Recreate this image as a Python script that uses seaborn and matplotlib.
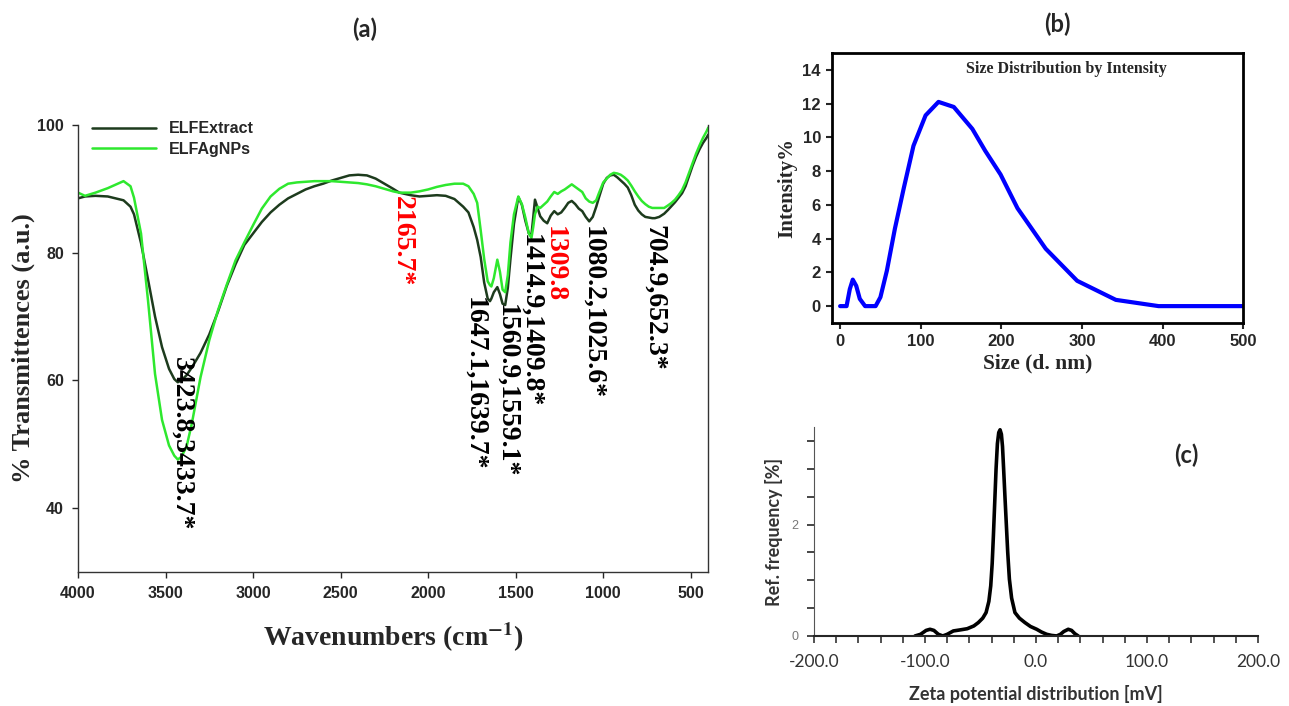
import numpy as np
import pandas as pd
import seaborn as sns
import matplotlib.pyplot as plt
from matplotlib.ticker import FixedLocator, MultipleLocator, FuncFormatter

# ---- (a) FTIR data ----
wavenumber = [4000, 3960, 3900, 3830, 3740, 3700, 3680, 3640, 3600, 3560, 3520, 3480, 3450, 3430,
              3410, 3380, 3350, 3300, 3250, 3200, 3150, 3100, 3050, 3000, 2950, 2900, 2850, 2800,
              2750, 2700, 2650, 2600, 2550, 2500, 2450, 2400, 2350, 2300, 2250, 2200, 2165, 2100,
              2050, 2000, 1950, 1900, 1850, 1800, 1770, 1740, 1720, 1700, 1680, 1660, 1647, 1639,
              1625, 1605, 1590, 1575, 1560, 1545, 1530, 1510, 1485, 1465, 1445, 1425, 1410, 1400,
              1390, 1375, 1360, 1340, 1320, 1300, 1280, 1260, 1240, 1220, 1200, 1180, 1160, 1140,
              1120, 1100, 1080, 1060, 1040, 1025, 1000, 980, 960, 940, 920, 900, 880, 860, 840,
              820, 800, 780, 760, 740, 720, 705, 680, 652, 630, 610, 590, 570, 550, 530, 510, 490,
              470, 450, 430, 410, 400]
extract_T = [88.5, 88.8, 88.9, 88.8, 88.2, 87.2, 86.0, 81.5, 75.8, 70.0, 65.2, 61.8, 60.2, 59.7,
             60.0, 60.8, 62.0, 64.3, 67.2, 70.8, 74.8, 78.2, 81.2, 83.0, 84.8, 86.3, 87.5, 88.5,
             89.2, 89.9, 90.4, 90.8, 91.3, 91.7, 92.1, 92.2, 92.1, 91.6, 90.8, 90.0, 89.4, 89.0,
             88.8, 88.9, 89.0, 88.9, 88.4, 87.2, 86.3, 84.0, 82.0, 79.3, 75.3, 72.8, 72.4, 72.8,
             73.8, 74.6, 73.5, 72.0, 71.8, 74.5, 79.0, 84.5, 88.7, 87.5, 85.0, 83.0, 82.8, 85.5,
             88.3, 87.0, 85.7, 85.0, 84.6, 85.8, 86.5, 86.0, 86.3, 87.0, 87.8, 88.1, 87.6, 86.9,
             86.5, 85.6, 84.9, 85.6, 87.2, 88.6, 90.8, 91.7, 92.1, 92.2, 91.8, 91.3, 90.8, 90.2, 89.0,
             87.5, 86.6, 86.0, 85.6, 85.5, 85.4, 85.4, 85.6, 86.1, 86.7, 87.3, 87.9, 88.6, 89.3, 90.4,
             92.0, 93.6, 95.0, 96.2, 97.2, 98.0, 98.5]
agnps_T = [89.4, 88.9, 89.4, 90.1, 91.2, 90.4, 88.6, 83.0, 72.5, 61.0, 53.8, 49.8, 48.2, 47.6,
           48.0, 49.6, 53.2, 60.5, 66.3, 71.0, 75.0, 78.8, 81.6, 84.3, 86.9, 88.8, 90.0, 90.8,
           91.0, 91.1, 91.2, 91.2, 91.2, 91.1, 91.0, 90.9, 90.7, 90.4, 90.0, 89.6, 89.4, 89.4,
           89.6, 89.9, 90.3, 90.6, 90.8, 90.8, 90.4, 89.2, 87.8, 83.5, 79.0, 75.5, 74.9, 74.7,
           76.0, 78.9, 77.0, 74.2, 73.8, 76.5, 81.6, 86.0, 88.8, 87.6, 85.5, 83.0, 82.3, 84.0,
           86.0, 87.2, 87.0, 87.5, 88.0, 88.8, 89.5, 89.2, 89.6, 89.9, 90.3, 90.7, 90.3, 89.9,
           89.5, 88.5, 88.0, 87.8, 88.2, 89.3, 91.0, 91.6, 92.2, 92.5, 92.4, 92.2, 91.8, 91.3, 90.5,
           89.6, 88.8, 88.1, 87.6, 87.2, 87.0, 87.0, 87.0, 87.0, 87.4, 87.8, 88.3, 89.0, 89.8, 91.0,
           92.5, 94.0, 95.5, 96.8, 98.0, 99.0, 99.6]
peak_labels = ["3423.8,3433.7*", "2165.7*", "1647.1,1639.7*", "1560.9,1559.1*",
               "1414.9,1409.8*", "1309.8", "1080.2,1025.6*", "704.9,652.3*"]
peak_colors = ["black", "red", "black", "black", "black", "red", "black", "black"]
peak_x = [3410, 2150, 1735, 1553, 1416, 1281, 1063, 710]
peak_y = [63.6, 88.8, 73.1, 72.0, 82.9, 84.2, 84.2, 84.4]

# ---- (b) DLS size distribution ----
size_nm = [0, 8, 12, 15.7, 20, 24.4, 31, 44, 50, 58, 68, 79, 91, 106, 122, 141, 164, 180,
           199, 220, 255, 294, 342, 395, 500]
intensity = [0, 0, 1.0, 1.57, 1.2, 0.43, 0, 0, 0.53, 2.1, 4.6, 7.0, 9.5, 11.3, 12.1, 11.8,
             10.5, 9.2, 7.8, 5.8, 3.4, 1.5, 0.37, 0, 0]

# ---- (c) zeta potential ----
zeta_mv = [-109, -104, -99, -95.5, -92, -88, -84, -80, -74.5, -68, -62, -56, -52, -48, -45,
           -42.5, -40.8, -39.5, -38.4, -37.2, -36, -34.8, -33.6, -32.4, -31.2, -30.2, -29.2,
           -28, -27, -25.5, -24, -22, -19, -15, -10, -5, 0.6, 5, 9.6, 14, 18.6, 22, 25, 29,
           32, 35, 38]
zeta_freq = [0, 0.03, 0.1, 0.12, 0.1, 0.03, 0, 0.03, 0.09, 0.11, 0.13, 0.18, 0.24, 0.32, 0.42,
             0.62, 0.9, 1.3, 1.8, 2.4, 3.0, 3.45, 3.65, 3.7, 3.62, 3.4, 3.0,
             2.5, 2.1, 1.5, 1.02, 0.68, 0.42, 0.32, 0.24, 0.17, 0.12, 0.07, 0.03, 0.01, 0, 0.03,
             0.08, 0.12, 0.1, 0.04, 0]

sns.set_style("ticks")
plt.rcParams['font.family'] = ['Liberation Sans', 'DejaVu Sans']
plt.rcParams['mathtext.fontset'] = 'stix'
serif = ['Liberation Serif', 'DejaVu Serif']
calib = ['Lato', 'DejaVu Sans']

fig = plt.figure(figsize=(12.89, 7.06), dpi=100)

# ---------------- panel (a) ----------------
ax1 = fig.add_axes([0.0605, 0.19, 0.489, 0.633])
ftir = pd.DataFrame({"wn": wavenumber, "ELFExtract": extract_T, "ELFAgNPs": agnps_T})
ftir_long = ftir.melt(id_vars="wn", var_name="sample", value_name="T")
sns.lineplot(data=ftir_long, x="wn", y="T", hue="sample", ax=ax1,
             palette={"ELFExtract": "#1d3b1d", "ELFAgNPs": "#2ee82e"}, linewidth=1.8)
ax1.set_xlim(4000, 400)
ax1.set_ylim(30, 100)
ax1.set_xticks([4000, 3500, 3000, 2500, 2000, 1500, 1000, 500])
ax1.set_yticks([40, 60, 80, 100])
ax1.tick_params(direction='out', length=4, width=1, labelsize=11.5, pad=6)
for lab in ax1.get_xticklabels() + ax1.get_yticklabels():
    lab.set_fontweight('bold')
ax1.spines['top'].set_visible(False)
for s in ['left', 'bottom', 'right']:
    ax1.spines[s].set_linewidth(1)
    ax1.spines[s].set_color('#333333')
ax1.set_xlabel("Wavenumbers (cm$\\mathbf{^{-1}}$)", family=serif, fontsize=20,
               fontweight='bold', labelpad=14)
ax1.set_ylabel("% Transmittences (a.u.)", family=serif, fontsize=19,
               fontweight='bold', labelpad=2)
leg = ax1.legend(loc='upper left', bbox_to_anchor=(0.0, 1.04), frameon=False,
                 handlelength=4.0, fontsize=11.5, labelspacing=0.35)
for t in leg.get_texts():
    t.set_fontweight('bold')
for lab, c, x, y in zip(peak_labels, peak_colors, peak_x, peak_y):
    ax1.text(x, y, lab, rotation=270, ha='center', va='top', color=c,
             family=serif, fontsize=20, fontweight='bold')

# ---------------- panel (b) ----------------
ax2 = fig.add_axes([0.6455, 0.5425, 0.319, 0.3825])
sns.lineplot(x=size_nm, y=intensity, ax=ax2, color='#0000ff', linewidth=3)
ax2.set_xlim(-10, 500)
ax2.set_ylim(-1, 15)
ax2.set_xticks([0, 100, 200, 300, 400, 500])
ax2.set_yticks([0, 2, 4, 6, 8, 10, 12, 14])
ax2.tick_params(direction='out', length=4, width=1.5, labelsize=12, pad=4)
for lab in ax2.get_xticklabels() + ax2.get_yticklabels():
    lab.set_fontweight('bold')
for s in ax2.spines.values():
    s.set_linewidth(2)
    s.set_color('black')
ax2.set_xlabel("Size (d. nm)", family=serif, fontsize=15.5, fontweight='bold', labelpad=3)
ax2.set_ylabel("Intensity%", family=serif, fontsize=15, fontweight='bold', labelpad=4)
ax2.text(0.57, 0.94, "Size Distribution by Intensity", transform=ax2.transAxes,
         ha='center', va='center', family=serif, fontsize=11.5, fontweight='bold')

# ---------------- panel (c) ----------------
ax3 = fig.add_axes([0.6315, 0.0992, 0.3445, 0.296])
sns.lineplot(x=zeta_mv, y=zeta_freq, ax=ax3, color='black', linewidth=2.6)
ax3.set_xlim(-200, 200)
ax3.set_ylim(0, 3.75)
ax3.xaxis.set_major_locator(MultipleLocator(100))
ax3.xaxis.set_minor_locator(MultipleLocator(20))
ax3.xaxis.set_major_formatter(FuncFormatter(lambda v, p: f"{v:.1f}"))
ax3.yaxis.set_major_locator(FixedLocator([0, 0.5, 1, 1.5, 2, 2.5, 3, 3.5]))
ax3.yaxis.set_major_formatter(FuncFormatter(lambda v, p: f"{v:.0f}" if v in (0, 2) else ""))
ax3.tick_params(axis='x', which='both', direction='out', length=5, width=1.2,
                labelsize=12.5, colors='#333333', pad=8)
ax3.tick_params(axis='y', direction='out', length=5, width=1.2, labelsize=9,
                labelcolor='#777777', pad=6)
for lab in ax3.get_xticklabels():
    lab.set_family(calib)
ax3.spines['top'].set_visible(False)
ax3.spines['right'].set_visible(False)
ax3.spines['left'].set_color('#555555')
ax3.spines['bottom'].set_linewidth(1.5)
ax3.set_xlabel("Zeta potential distribution [mV]", fontsize=13, fontweight='bold',
               color='#333333', family=calib, labelpad=11)
ax3.set_ylabel("Ref. frequency [%]", fontsize=13, fontweight='bold', color='#333333',
               family=calib, labelpad=6)

# panel letters
fig.text(0.283, 0.958, "(a)", ha='center', va='center', fontsize=17, fontweight='bold',
         family=calib)
fig.text(0.820, 0.965, "(b)", ha='center', va='center', fontsize=17, fontweight='bold',
         family=calib)
fig.text(0.920, 0.355, "(c)", ha='center', va='center', fontsize=17, fontweight='bold',
         family=calib)

plt.savefig("out.png", dpi=100)
